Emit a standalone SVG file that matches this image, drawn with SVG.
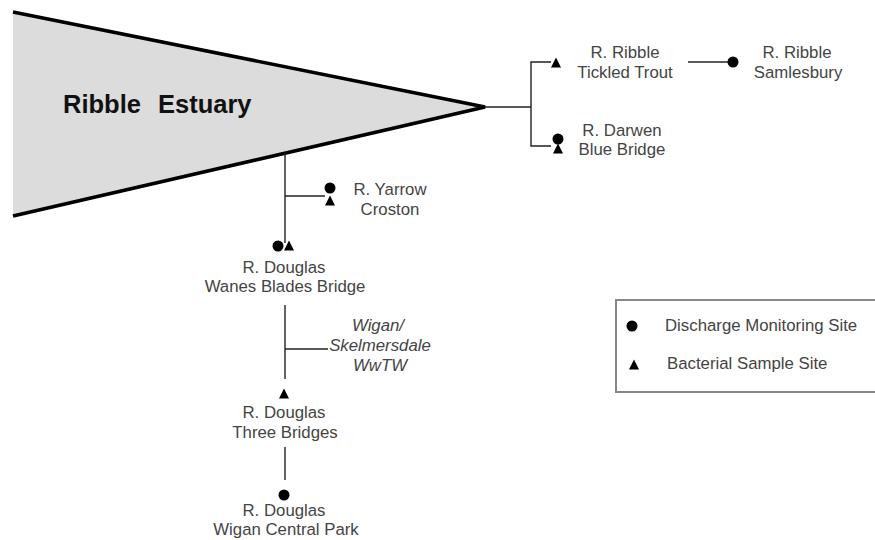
<svg xmlns="http://www.w3.org/2000/svg" width="875" height="540" viewBox="0 0 875 540">
<style>
.t{font-family:"Liberation Sans",Arial,sans-serif;font-size:16.8px;fill:#444;text-anchor:middle}
.i{font-style:italic}
.l{text-anchor:start}
.c{stroke:#222;stroke-width:1.4;fill:none}
</style>
<defs>
<circle id="dot" r="5.5" fill="#000"/>
<polygon id="tri" points="0,-5.5 5,4.5 -5,4.5" fill="#000"/>
</defs>
<rect width="875" height="540" fill="#fff"/>
<g id="estuary">
<polygon points="13,12 485,107 13,216" fill="#dcdcdc"/>
<polyline points="13,12 485,107 13,216" fill="none" stroke="#000" stroke-width="3.5" stroke-linejoin="miter"/>
<text y="113" style="font-family:'Liberation Sans',Arial,sans-serif;font-size:25.5px;font-weight:bold;fill:#111"><tspan x="63">Ribble</tspan><tspan x="158">Estuary</tspan></text>
</g>
<g id="connectors">
<polyline class="c" points="485,107 531,107"/>
<polyline class="c" points="551,62 531,62 531,146 551,146"/>
<line class="c" x1="688" y1="62" x2="730" y2="62"/>
<line class="c" x1="285" y1="153" x2="285" y2="243"/>
<line class="c" x1="285" y1="196" x2="325" y2="196"/>
<line class="c" x1="285" y1="305" x2="285" y2="379"/>
<line class="c" x1="285" y1="349" x2="328" y2="349"/>
<line class="c" x1="285" y1="447" x2="285" y2="480"/>
</g>
<g id="tickled-trout">
<use href="#tri" x="556" y="63"/>
<text class="t" x="625" y="58">R. Ribble</text>
<text class="t" x="625" y="78">Tickled Trout</text>
</g>
<g id="samlesbury">
<use href="#dot" x="733" y="62"/>
<text class="t" x="797" y="58">R. Ribble</text>
<text class="t" x="798" y="78">Samlesbury</text>
</g>
<g id="blue-bridge">
<use href="#dot" x="558" y="139"/>
<use href="#tri" x="558" y="149"/>
<text class="t" x="622" y="136">R. Darwen</text>
<text class="t" x="622" y="155">Blue Bridge</text>
</g>
<g id="croston">
<use href="#dot" x="330" y="188"/>
<use href="#tri" x="330" y="201"/>
<text class="t" x="390" y="195">R. Yarrow</text>
<text class="t" x="390" y="215">Croston</text>
</g>
<g id="wanes-blades">
<use href="#dot" x="278" y="246"/>
<use href="#tri" x="289" y="246"/>
<text class="t" x="284" y="273">R. Douglas</text>
<text class="t" x="285" y="292">Wanes Blades Bridge</text>
</g>
<g id="wwtw">
<text class="t i" x="378" y="331">Wigan/</text>
<text class="t i" x="380" y="351">Skelmersdale</text>
<text class="t i" x="380" y="371">WwTW</text>
</g>
<g id="three-bridges">
<use href="#tri" x="284" y="394"/>
<text class="t" x="284" y="418">R. Douglas</text>
<text class="t" x="285" y="438">Three Bridges</text>
</g>
<g id="central-park">
<use href="#dot" x="284" y="495"/>
<text class="t" x="284" y="516">R. Douglas</text>
<text class="t" x="286" y="535">Wigan Central Park</text>
</g>
<g id="legend">
<rect x="616" y="300" width="270" height="92" fill="#fff" stroke="#888" stroke-width="2"/>
<use href="#dot" x="632" y="326"/>
<text class="t l" x="665" y="331">Discharge Monitoring Site</text>
<use href="#tri" x="634" y="365"/>
<text class="t l" x="667" y="369">Bacterial Sample Site</text>
</g>
</svg>
